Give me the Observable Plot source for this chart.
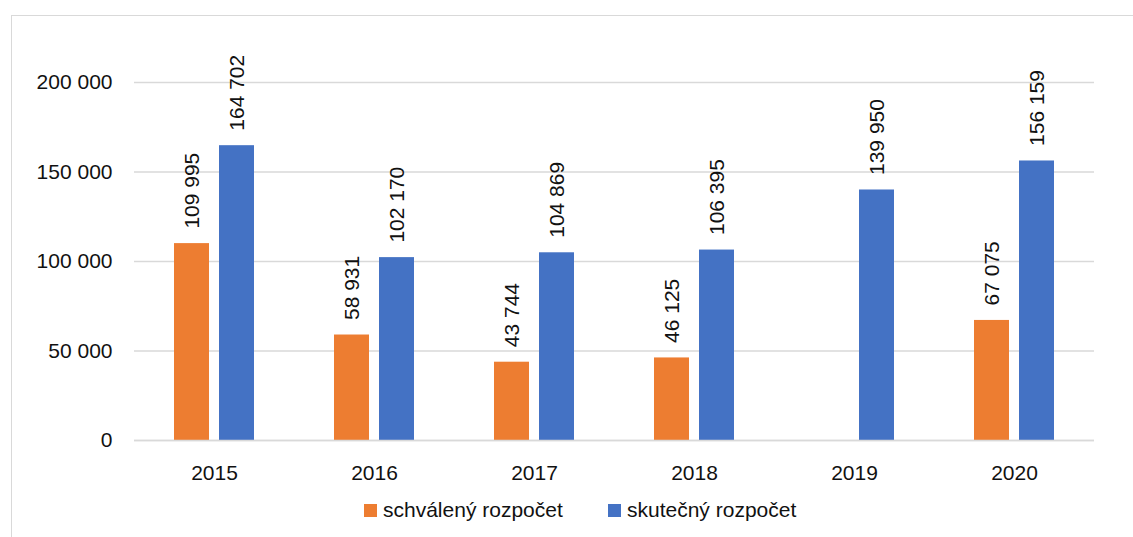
<!DOCTYPE html>
<html>
<head>
<meta charset="utf-8">
<script src="https://cdn.jsdelivr.net/npm/d3@7"></script>
<script src="https://cdn.jsdelivr.net/npm/@observablehq/plot@0.6"></script>
<style>
  html, body { margin: 0; padding: 0; background: #fff; overflow: hidden; width: 1133px; height: 537px; }
  body { font-family: "Liberation Sans", Arial, sans-serif; color: #111; }
  #frame { position: absolute; left: 11px; top: 15px; width: 1200px; height: 600px; border: 1px solid #d9d9d9; }
  #chart { position: absolute; left: 0; top: 0; }
  .legend-item { position: absolute; top: 498px; display: flex; align-items: center; font-size: 21px; white-space: nowrap; }
  .sw { width: 13px; height: 13px; margin-right: 6px; }
</style>
</head>
<body>
<div id="frame"><div id="chart"></div></div>
<div class="legend-item" style="left:364px"><span class="sw" style="background:#ED7D31"></span>schválený rozpočet</div>
<div class="legend-item" style="left:608px"><span class="sw" style="background:#4472C4"></span>skutečný rozpočet</div>
<script>
const years = ["2015", "2016", "2017", "2018", "2019", "2020"];
const series = ["schválený rozpočet", "skutečný rozpočet"];
const schvaleny = [109995, 58931, 43744, 46125, null, 67075];
const skutecny = [164702, 102170, 104869, 106395, 139950, 156159];
const yTicks = [0, 50000, 100000, 150000, 200000];
const colors = ["#ED7D31", "#4472C4"];

const fmt = v => d3.format(",")(v).replace(/,/g, " ");

const data = [];
years.forEach((y, i) => {
  data.push({year: y, series: series[0], value: schvaleny[i]});
  data.push({year: y, series: series[1], value: skutecny[i]});
});
const present = data.filter(d => d.value != null);

const chart = Plot.plot({
  width: 1121,
  height: 470,
  marginLeft: 122,
  marginRight: 39,
  marginTop: 66,
  marginBottom: 46,
  style: {fontFamily: "'Liberation Sans', Arial, sans-serif", fontSize: "21px", color: "#111", background: "transparent"},
  fx: {domain: years, padding: 0, label: null},
  x: {domain: series, paddingInner: 0.217, paddingOuter: 0.848, axis: null},
  y: {domain: [0, 200000], label: null},
  color: {domain: series, range: colors},
  marks: [
    Plot.gridY(yTicks, {stroke: "#d9d9d9", strokeOpacity: 1, strokeWidth: 1.3}),
    Plot.axisY(yTicks, {tickSize: 0, tickPadding: 22, tickFormat: fmt, label: null}),
    Plot.axisFx({anchor: "bottom", tickSize: 0, tickPadding: 25, label: null}),
    Plot.barY(present, {fx: "year", x: "series", y: "value", fill: "series"}),
    Plot.ruleY([0], {stroke: "#d9d9d9", strokeWidth: 1.5}),
    Plot.text(present, {fx: "year", x: "series", y: "value", text: d => fmt(d.value),
      rotate: -90, textAnchor: "start", lineAnchor: "middle", dy: -15, fill: "#111"})
  ]
});
document.getElementById("chart").appendChild(chart);
</script>
</body>
</html>
